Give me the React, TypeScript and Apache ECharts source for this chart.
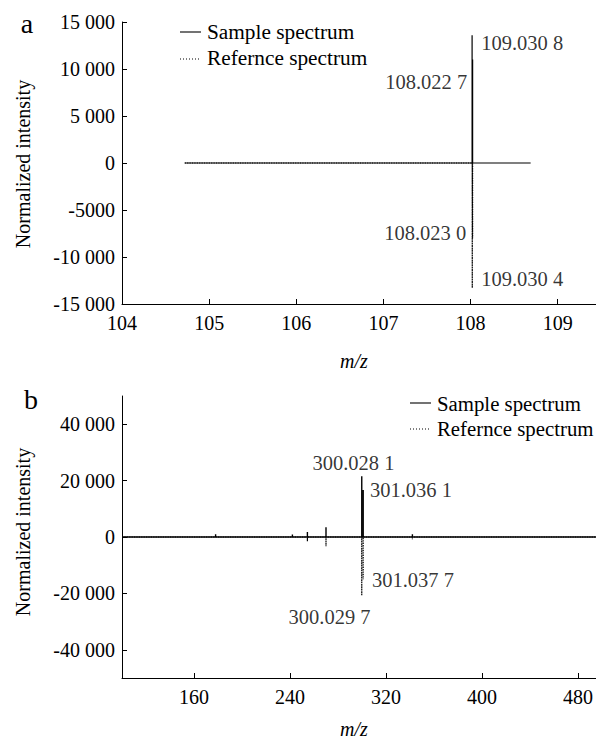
import React, { useEffect, useRef } from "react";
import * as echarts from "echarts";

const FONT = "Liberation Serif";

// Axis ticks and labels
const aXTicks = [104, 105, 106, 107, 108, 109];
const aYTicks = [-15000, -10000, -5000, 0, 5000, 10000, 15000];
const aYTickLabels = ["-15 000", "-10 000", "-5000", "0", "5 000", "10 000", "15 000"];
const bXTicks = [160, 240, 320, 400, 480];
const bYTicks = [-40000, -20000, 0, 20000, 40000];
const bYTickLabels = ["-40 000", "-20 000", "0", "20 000", "40 000"];

// Panel a spectra (plotted m/z, intensity)
const aSampleRange = [104.72, 108.69];
const aSamplePeaks: [number, number][] = [[108.018, 13600], [108.024, 11000]];
const aRefRange = [104.72, 108.02];
const aRefPeaks: [number, number][] = [[108.02, -13300], [108.024, -8000]];

// Panel b spectra
const bSampleRange = [100, 495];
const bSamplePeaks: [number, number][] = [
  [178, 1000], [242, 900], [254.5, 1800], [270, 3500], [299.8, 21500], [301, 16700], [342, 1000],
];
const bRefRange = [100, 495];
const bRefPeaks: [number, number][] = [
  [254.5, -1500], [270, -3300], [299.8, -20800], [301, -15000], [342, -800],
];

// Peak annotations
const aLabelTexts = ["109.030 8", "108.022 7", "108.023 0", "109.030 4"];
const aLabelMz = [108.117, 107.968, 107.956, 108.117];
const aLabelValues = [12770, 8620, -7450, -12340];
const aLabelSides = ["right", "left", "left", "right"];
const bLabelTexts = ["300.028 1", "301.036 1", "301.037 7", "300.029 7"];
const bLabelMz = [292.9, 306.2, 307.9, 273];
const bLabelValues = [26240, 16670, -15250, -28370];
const bLabelSides = ["inside", "right", "right", "inside"];

const legendNames = ["Sample spectrum", "Refernce spectrum"];

function buildSpectrum(range: number[], peaks: [number, number][]) {
  const data: number[][] = [[range[0], 0]];
  peaks.forEach(([x, h]) => {
    data.push([x, 0], [x, h], [x, 0]);
  });
  data.push([range[1], 0]);
  return data;
}

function labelData(texts: string[], mz: number[], vals: number[], sides: string[]) {
  return texts.map((t, i) => ({
    name: t,
    value: [mz[i], vals[i]],
    label: { position: sides[i] },
  }));
}

const textStyle = { fontSize: 20, fontFamily: FONT, color: "#000" };

function xAxisCfg(grid: number, min: number, max: number, ticks: number[]) {
  return {
    type: "value",
    gridIndex: grid,
    min,
    max,
    axisLine: { show: true, onZero: false, lineStyle: { color: "#000", width: 1 } },
    axisTick: { show: true, inside: true, length: 5, customValues: ticks, lineStyle: { color: "#000" } },
    axisLabel: { ...textStyle, margin: 9, customValues: ticks, formatter: (v: number) => String(v) },
    splitLine: { show: false },
  };
}

function yAxisCfg(grid: number, min: number, max: number, ticks: number[], labels: string[]) {
  return {
    type: "value",
    gridIndex: grid,
    min,
    max,
    axisLine: { show: true, onZero: false, lineStyle: { color: "#000", width: 1 } },
    axisTick: { show: true, inside: true, length: 5, customValues: ticks, lineStyle: { color: "#000" } },
    axisLabel: {
      ...textStyle,
      margin: 7,
      customValues: ticks,
      formatter: (v: number) => {
        const i = ticks.indexOf(v);
        return i >= 0 ? labels[i] : "";
      },
    },
    splitLine: { show: false },
  };
}

function txt(text: string, x: number, y: number, opts: any = {}) {
  const { size = 20, align = "left", italic = false, rotation = 0 } = opts;
  return {
    type: "text",
    x,
    y,
    rotation,
    silent: true,
    style: {
      text,
      x: 0,
      y: 0,
      fontSize: size,
      fontFamily: FONT,
      fontStyle: italic ? "italic" : "normal",
      fill: "#000",
      textAlign: align,
      align,
      textVerticalAlign: "middle",
      verticalAlign: "middle",
    },
  };
}

function legLine(x1: number, x2: number, y: number, dotted: boolean) {
  return {
    type: "line",
    silent: true,
    shape: { x1, y1: y, x2, y2: y },
    style: { stroke: "#000", lineWidth: 1.1, lineDash: dotted ? [1, 2] : null },
  };
}

export default function App() {
  const ref = useRef<HTMLDivElement>(null);
  useEffect(() => {
    if (!ref.current) return;
    const chart = echarts.init(ref.current, null, { renderer: "svg" });
    const sampleStyle = { color: "#000", width: 1.2, type: "solid" };
    const refStyle = { color: "#000", width: 1.2, type: "dotted" };
    const lineBase = { type: "line", symbol: "none", showSymbol: false, silent: true };
    const labelSeriesBase = {
      type: "scatter",
      symbolSize: 1,
      silent: true,
      itemStyle: { color: "rgba(0,0,0,0)" },
      label: { show: true, formatter: "{b}", distance: 0, ...textStyle, fontSize: 20.5 },
    };
    chart.setOption({
      animation: false,
      backgroundColor: "#fff",
      grid: [
        { left: 122, top: 22, width: 474, height: 282 },
        { left: 122, top: 396, width: 474, height: 282 },
      ],
      xAxis: [xAxisCfg(0, 104, 109.44, aXTicks), xAxisCfg(1, 100, 495, bXTicks)],
      yAxis: [
        yAxisCfg(0, -15000, 15000, aYTicks, aYTickLabels),
        yAxisCfg(1, -50000, 50000, bYTicks, bYTickLabels),
      ],
      series: [
        { ...lineBase, name: legendNames[0], xAxisIndex: 0, yAxisIndex: 0, data: buildSpectrum(aSampleRange, aSamplePeaks), lineStyle: sampleStyle },
        { ...lineBase, name: legendNames[1], xAxisIndex: 0, yAxisIndex: 0, data: buildSpectrum(aRefRange, aRefPeaks), lineStyle: refStyle },
        { ...lineBase, name: legendNames[0] + " b", xAxisIndex: 1, yAxisIndex: 1, data: buildSpectrum(bSampleRange, bSamplePeaks), lineStyle: { ...sampleStyle, width: 1.4 } },
        { ...lineBase, name: legendNames[1] + " b", xAxisIndex: 1, yAxisIndex: 1, data: buildSpectrum(bRefRange, bRefPeaks), lineStyle: refStyle },
        { ...labelSeriesBase, xAxisIndex: 0, yAxisIndex: 0, data: labelData(aLabelTexts, aLabelMz, aLabelValues, aLabelSides) },
        { ...labelSeriesBase, xAxisIndex: 1, yAxisIndex: 1, data: labelData(bLabelTexts, bLabelMz, bLabelValues, bLabelSides) },
      ],
      graphic: [
        txt("a", 27, 23.5, { size: 28, align: "center" }),
        txt("b", 31, 399.5, { size: 28, align: "center" }),
        txt("Normalized intensity", 23, 164, { align: "center", rotation: Math.PI / 2 }),
        txt("Normalized intensity", 23, 532, { align: "center", rotation: Math.PI / 2 }),
        txt("m/z", 354, 361, { align: "center", italic: true }),
        txt("m/z", 354, 729, { align: "center", italic: true }),
        legLine(180, 201, 32, false),
        legLine(180, 201, 59, true),
        txt(legendNames[0], 207, 32, { size: 21.3 }),
        txt(legendNames[1], 207, 58, { size: 21.3 }),
        legLine(410, 431, 403, false),
        legLine(410, 431, 429, true),
        txt(legendNames[0], 437, 403, { size: 20.8 }),
        txt(legendNames[1], 437, 428, { size: 20.8 }),
      ],
    });
    return () => chart.dispose();
  }, []);
  return (
    <div
      ref={ref}
      style={{ position: "absolute", left: 0, top: 0, width: 596, height: 740, background: "#fff" }}
    />
  );
}
